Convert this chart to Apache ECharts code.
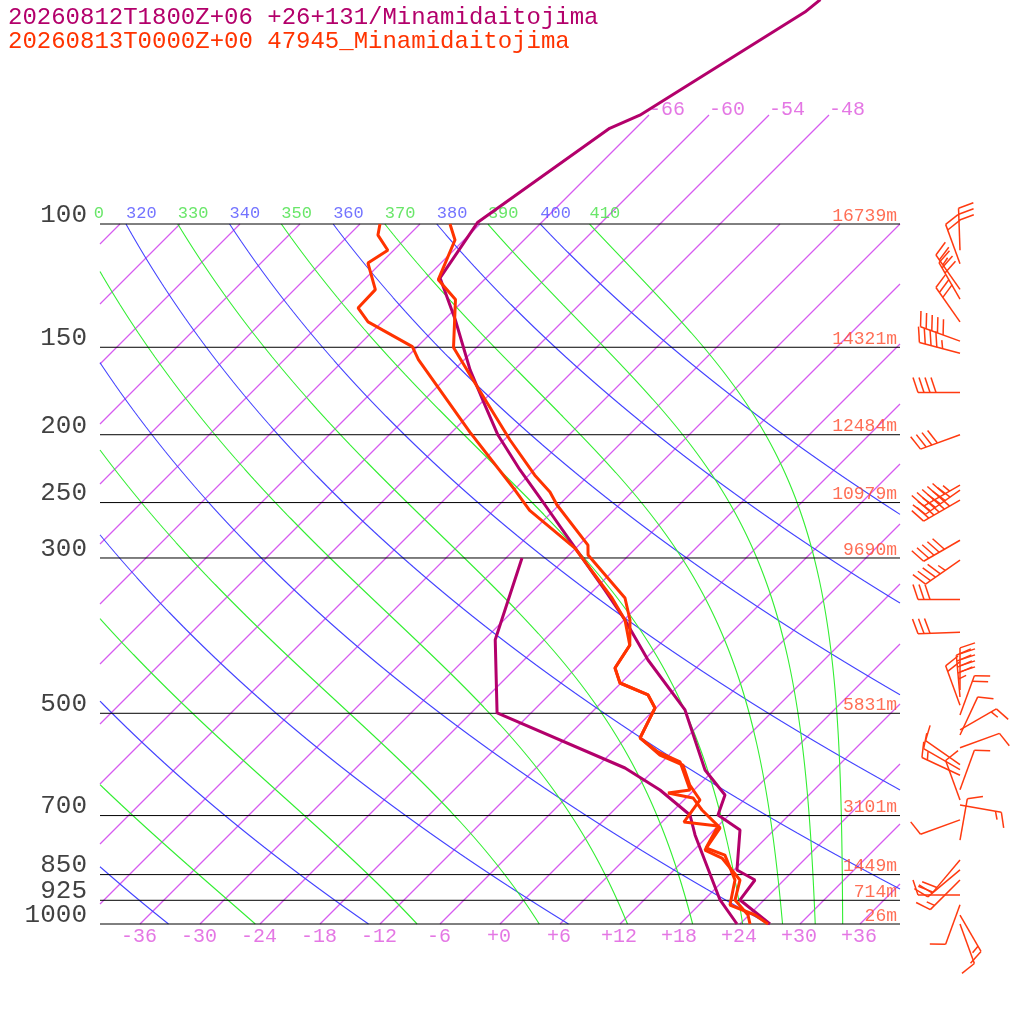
<!DOCTYPE html>
<html>
<head>
<meta charset="utf-8">
<script src="https://cdn.jsdelivr.net/npm/echarts@6/dist/echarts.min.js"></script>
<style>html,body{margin:0;padding:0;background:#fff}#chart{width:1024px;height:1024px}</style>
</head>
<body>
<div id="chart"></div>
<script>
// sounding 1 (purple)
let s1TempP = [47.8, 49.8, 69.9, 73.0, 99.4, 119.4, 137.0, 161.6, 181.4, 200.2, 224.6, 252.0, 297.0, 333.4, 367.9, 419.6, 494.6, 602.5, 654.2, 698.7, 734, 837.4, 865.3, 924, 1000];
let s1TempT = [-60.4, -60.7, -66.9, -68.6, -72.4, -70.6, -64.9, -58.4, -53.4, -49.1, -43.4, -37.4, -28.9, -22.9, -17.9, -11.6, -2.9, 5.1, 9.6, 10.9, 14.6, 18.3, 21.1, 21.6, 27.0];
let s1DewP = [300, 392.6, 499.4, 598.6, 643.5, 698.7, 746.1, 924, 1000];
let s1DewT = [-34.4, -28.9, -21.4, -3.1, 2.6, 8.1, 10.6, 19.6, 23.7];
// sounding 2 (red)
let s2TempP = [100, 105.4, 120.1, 128.2, 150.1, 164.3, 203.5, 228.5, 241.5, 252, 287.5, 297, 342.2, 367.9, 399.7, 430.8, 452.6, 470.7, 491.4, 507.9, 542.3, 567.9, 586.7, 643.5, 649.9, 660.6, 687.3, 729.0, 784.1, 805.0, 865.3, 924, 970.8, 1000];
let s2TempT = [-75, -72.9, -70.6, -66.9, -62.3, -57.9, -47.4, -41.4, -38.2, -36.2, -29.1, -28.1, -20.1, -17.4, -14.9, -14.1, -12.1, -8.1, -6.1, -5.6, -4.6, -1.4, 1.8, 5.6, 3.7, 6.7, 8.8, 12.4, 13.1, 15.6, 19.6, 21.1, 23.9, 25.0];
let s2DewP = [100, 103.7, 109.0, 113.7, 124.1, 131.8, 138.0, 149.7, 156.2, 198.3, 239.9, 256.5, 290.4, 342.2, 367.9, 399.7, 430.8, 452.6, 470.7, 491.4, 507.9, 542.3, 573.7, 592.8, 633.4, 665.0, 715.2, 724.7, 778.8, 797.2, 865.3, 939.4, 970.8, 1000];
let s2DewT = [-82, -81.1, -78.6, -79.3, -75.9, -75.8, -73.4, -66.5, -64.6, -52.2, -41.9, -38.4, -30.1, -21.4, -17.9, -14.9, -14.1, -12.1, -8.1, -6.1, -5.6, -4.6, -0.9, 2.4, 5.1, 7.6, 8.2, 12.0, 13.0, 15.6, 19.1, 21.1, 24.6, 26.8];
// wind barbs: pressure, direction (deg), speed (kt)
let barbP = [109, 114, 124, 128, 138, 147, 153, 174, 200, 236, 240, 248, 283, 302, 344, 383, 463, 474, 487, 503, 528, 537, 560, 592, 602, 613, 643, 665, 676, 710, 759, 810, 837, 865, 909, 939, 971, 1000];
let barbDir = [358, 340, 325, 330, 325, 290, 285, 270, 250, 240, 235, 240, 240, 235, 270, 268, 0, 355, 340, 20, 60, 25, 70, 305, 300, 295, 20, 340, 100, 250, 10, 220, 230, 225, 270, 200, 150, 160];
let barbSpd = [30, 20, 25, 30, 30, 50, 45, 40, 40, 55, 60, 60, 50, 45, 30, 30, 50, 45, 20, 20, 15, 10, 10, 10, 10, 15, 10, 10, 15, 10, 10, 20, 20, 15, 10, 10, 15, 10];
// axes
let isobars = [100, 150, 200, 250, 300, 500, 700, 850, 925, 1000];
let heightLabels = ['16739m', '14321m', '12484m', '10979m', '9690m', '5831m', '3101m', '1449m', '714m', '26m'];
let tempTicks = [-36, -30, -24, -18, -12, -6, 0, 6, 12, 18, 24, 30, 36];
let topIsotherms = [-66, -60, -54, -48];
let isotherms = [];
for (let t = -120; t <= 42; t += 6) isotherms.push(t);
let dryThetas = [240, 260, 280, 300, 320, 340, 360, 380, 400];
let moistThetas = [250, 270, 290, 310, 330, 350, 370, 390, 410];

const X0 = 100, X1 = 900, YB = 924, K = 304;
let dOf = p => K * Math.log(1000 / p);
let yOf = p => YB - dOf(p);
let xOf = (t, p) => 500 + 10 * t + dOf(p);
let pOfD = d => 1000 * Math.exp(-d / K);

function clipX(pts) {
  let out = [];
  for (let i = 0; i < pts.length; i++) {
    let a = pts[i], inA = a[0] >= X0 && a[0] <= X1;
    if (i > 0) {
      let b = pts[i - 1], inB = b[0] >= X0 && b[0] <= X1;
      if (inA !== inB) {
        let edge = (inA ? b[0] : a[0]) < X0 ? X0 : X1;
        let f = (edge - b[0]) / (a[0] - b[0]);
        let q = [edge, b[1] + f * (a[1] - b[1])];
        if (inA) out.push(q); else { out.push(q); out.push([null, null]); }
      }
    }
    if (inA) out.push(a);
  }
  return out;
}

let series = [];
let gridLine = (data, color, w) => {
  series.push({
    type: 'line', data: data, showSymbol: false, silent: true, connectNulls: false,
    lineStyle: { color: color, width: w || 1 }, z: 1, animation: false
  });
};

// isotherms: custom segments [x0, y0, x1, y1]
let isoSegs = [];
isotherms.forEach(t => {
  let dmax = topIsotherms.indexOf(t) >= 0 ? 809 : dOf(100);
  let d0 = Math.max(0, -400 - 10 * t), d1 = Math.min(dmax, 400 - 10 * t);
  if (d1 > d0) isoSegs.push([500 + 10 * t + d0, YB - d0, 500 + 10 * t + d1, YB - d1]);
});
series.push({
  type: 'custom', silent: true, animation: false, z: 1, data: isoSegs,
  renderItem: function (params, api) {
    let a = api.coord([api.value(0), api.value(1)]), b = api.coord([api.value(2), api.value(3)]);
    return { type: 'line', shape: { x1: a[0], y1: a[1], x2: b[0], y2: b[1] }, style: { stroke: '#d65cf0', lineWidth: 1.15, opacity: 1 } };
  }
});
// dry adiabats
dryThetas.forEach(th => {
  let pts = [];
  for (let i = 0; i <= 200; i++) {
    let p = pOfD(dOf(100) * i / 200);
    let t = th * Math.pow(p / 1000, 0.2857) - 273.15;
    pts.push([xOf(t, p), yOf(p)]);
  }
  gridLine(clipX(pts), '#4444ff', 1.1);
});
// moist adiabats (theta-e)
function thetaE(tk, p) {
  let tc = tk - 273.15;
  let es = 6.112 * Math.exp(17.67 * tc / (tc + 243.5));
  let r = 0.622 * es / (p - es);
  return tk * Math.pow(1000 / p, 0.2857) * Math.exp(2.5e6 * r / (1004 * tk));
}
function moistT(te, p) {
  let lo = 150, hi = 330;
  for (let i = 0; i < 50; i++) {
    let m = (lo + hi) / 2;
    if (thetaE(m, p) > te) hi = m; else lo = m;
  }
  return lo - 273.15;
}
moistThetas.forEach(th => {
  let pts = [];
  for (let i = 0; i <= 200; i++) {
    let p = pOfD(dOf(100) * i / 200);
    pts.push([xOf(moistT(th, p), p), yOf(p)]);
  }
  gridLine(clipX(pts), '#33ee33', 1.1);
});
// isobars
isobars.forEach(p => gridLine([[X0, yOf(p)], [X1, yOf(p)]], '#000'));

let mono = '"Liberation Mono", "DejaVu Sans Mono", monospace';
let textSeries = (data, color, size, align, z) => series.push({
  type: 'scatter', symbolSize: 0, silent: true, animation: false, z: z || 5,
  data: data.map(d => ({ value: [d[0], d[1]], label: { show: true, formatter: d[2], position: 'inside', color: color, fontSize: size, fontFamily: mono, align: align, verticalAlign: 'middle' } }))
});
textSeries(isobars.map(p => [87, yOf(p) - 9, String(p)]), '#111', 26, 'right');
textSeries(isobars.map((p, i) => [897, yOf(p) - 8, heightLabels[i]]), '#ff4a2a', 18, 'right');
textSeries(tempTicks.map(t => [xOf(t, 1000) - 1, 937, (t < 0 ? '-' : '+') + Math.abs(t)]), '#dd55dd', 20, 'center');
textSeries(topIsotherms.map(t => [xOf(t, pOfD(809)) + 18, 110, String(t)]), '#dd55dd', 20, 'center');
let thLab = [];
dryThetas.forEach(th => { let x = xOf(th * Math.pow(0.1, 0.2857) - 273.15, 100); if (x >= 100 && x < 880) thLab.push([x, 213, String(th), '#5050ff']); });
moistThetas.forEach(th => { let x = xOf(moistT(th, 100), 100); if (x >= 100 && x < 880) thLab.push([x, 213, String(th), '#44e044']); });
thLab.forEach(l => textSeries([l], l[3], 17, 'left'));
textSeries([[104, 213, '0']], '#44e044', 17, 'right');

// soundings
let sounding = (ps, ts, color) => series.push({
  type: 'line', data: ps.map((p, i) => [xOf(ts[i], p), yOf(p)]), showSymbol: false, silent: true,
  lineStyle: { color: color, width: 3 }, z: 10, animation: false
});
sounding(s1TempP, s1TempT, '#b3006b');
sounding(s1DewP, s1DewT, '#b3006b');
sounding(s2TempP, s2TempT, '#ff3300');
sounding(s2DewP, s2DewT, '#ff3300');

// wind barbs
series.push({
  type: 'custom', silent: true, animation: false, z: 10,
  data: barbP.map((p, i) => [960, yOf(p), barbDir[i], barbSpd[i]]),
  renderItem: function (params, api) {
    let c = api.coord([api.value(0), api.value(1)]);
    let a = api.value(2) * Math.PI / 180, spd = api.value(3);
    let dx = Math.sin(a), dy = -Math.cos(a), rx = -dy, ry = dx;
    let L = 42, tip = [c[0] + dx * L, c[1] + dy * L];
    let kids = [{ type: 'line', shape: { x1: c[0], y1: c[1], x2: tip[0], y2: tip[1] } }];
    let n = Math.floor(spd / 10), half = (spd % 10) >= 5;
    for (let k = 0; k < n; k++) {
      let b = [tip[0] - dx * 6 * k, tip[1] - dy * 6 * k];
      kids.push({ type: 'line', shape: { x1: b[0], y1: b[1], x2: b[0] + rx * 15 + dx * 5, y2: b[1] + ry * 15 + dy * 5 } });
    }
    if (half) {
      let b = [tip[0] - dx * 6 * n, tip[1] - dy * 6 * n];
      kids.push({ type: 'line', shape: { x1: b[0], y1: b[1], x2: b[0] + rx * 8 + dx * 3, y2: b[1] + ry * 8 + dy * 3 } });
    }
    kids.forEach(k => k.style = { stroke: '#ff3a10', lineWidth: 1.5 });
    return { type: 'group', children: kids };
  }
});

let chart = echarts.init(document.getElementById('chart'));
chart.setOption({
  animation: false,
  grid: { left: 0, right: 0, top: 0, bottom: 0 },
  xAxis: { type: 'value', min: 0, max: 1024, show: false },
  yAxis: { type: 'value', min: 0, max: 1024, inverse: true, show: false },
  graphic: [
    { type: 'text', left: 8, top: 6, style: { text: '20260812T1800Z+06 +26+131/Minamidaitojima', fill: '#b3006b', font: '24px ' + mono } },
    { type: 'text', left: 8, top: 30, style: { text: '20260813T0000Z+00 47945_Minamidaitojima', fill: '#ff3300', font: '24px ' + mono } }
  ],
  series: series
});
</script>
</body>
</html>
